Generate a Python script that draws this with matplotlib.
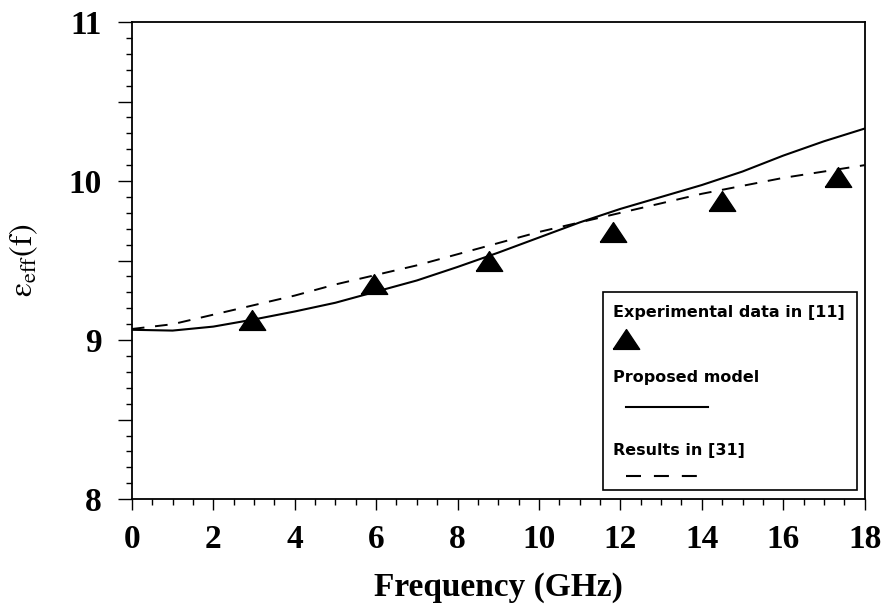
import matplotlib
matplotlib.use("Agg")
import matplotlib.pyplot as plt
from matplotlib.patches import Rectangle
from matplotlib.ticker import MultipleLocator

# ---------------------------------------------------------------------------
# Data
# ---------------------------------------------------------------------------
exp_freq = [2.95, 5.95, 8.77, 11.82, 14.5, 17.35]
exp_eps = [9.126, 9.352, 9.497, 9.68, 9.874, 10.025]

model_freq = [0, 1, 2, 3, 4, 5, 6, 7, 8, 9, 10, 11, 12, 13, 14, 15, 16, 17, 18]
model_eps = [9.065, 9.06, 9.085, 9.13, 9.18, 9.235, 9.305, 9.375, 9.46, 9.55,
             9.645, 9.74, 9.825, 9.90, 9.975, 10.06, 10.16, 10.25, 10.33]

ref31_freq = [0, 1, 2, 3, 4, 5, 6, 7, 8, 9, 10, 11, 12, 13, 14, 15, 16, 17, 18]
ref31_eps = [9.07, 9.10, 9.16, 9.22, 9.28, 9.35, 9.41, 9.47, 9.54, 9.61,
             9.68, 9.74, 9.80, 9.86, 9.92, 9.97, 10.02, 10.06, 10.10]

x_ticks = [0, 2, 4, 6, 8, 10, 12, 14, 16, 18]
y_ticks = [8, 9, 10, 11]

legend_labels = ["Experimental data in [11]", "Proposed model", "Results in [31]"]

# ---------------------------------------------------------------------------
# Figure
# ---------------------------------------------------------------------------
plt.rcParams["mathtext.fontset"] = "stix"
serif = "Liberation Serif"

fig = plt.figure(figsize=(8.85, 6.11), dpi=100)
ax = fig.add_axes([0.149, 0.183, 0.828, 0.781])

# wide, flat triangle as in the scan
tri = [(-1.0, -0.75), (1.0, -0.75), (0.0, 0.75), (-1.0, -0.75)]

ax.plot(model_freq, model_eps, color="black", lw=1.5)
ax.plot(ref31_freq, ref31_eps, color="black", lw=1.4, dashes=(6.5, 5.5))
ax.plot(exp_freq, exp_eps, linestyle="none", marker=tri, ms=19,
        color="black", clip_on=False)

ax.set_xlim(0, 18)
ax.set_ylim(8, 11)

ax.xaxis.set_minor_locator(MultipleLocator(0.5))
ax.yaxis.set_major_locator(MultipleLocator(0.5))
ax.yaxis.set_minor_locator(MultipleLocator(0.1))

ax.set_xticks(x_ticks)
ax.set_xticklabels([str(t) for t in x_ticks])
ax.set_yticklabels(["" if float(t) not in y_ticks else f"{t:g}" for t in ax.get_yticks()])

ax.tick_params(axis="both", which="major", direction="out", length=8, width=1.0,
               labelsize=24)
ax.tick_params(axis="both", which="minor", direction="out", length=4, width=1.0)
ax.tick_params(axis="x", which="major", pad=10)
ax.tick_params(axis="y", which="major", length=10, pad=12)
for lab in ax.get_xticklabels() + ax.get_yticklabels():
    lab.set_fontfamily(serif)
    lab.set_fontweight("bold")

for sp in ax.spines.values():
    sp.set_linewidth(1.3)
    sp.set_color("black")

ax.set_xlabel("Frequency (GHz)", fontsize=24, fontfamily=serif, fontweight="bold",
              labelpad=12)
ax.set_ylabel(r"$\mathrm{\varepsilon}_{\mathrm{eff}}\mathrm{(f)}$", fontsize=23, labelpad=20)

# ---------------------------------------------------------------------------
# Legend box drawn by hand (labels stacked above their symbols)
# ---------------------------------------------------------------------------
tr = ax.transAxes
ax.add_patch(Rectangle((0.643, 0.019), 0.346, 0.415, transform=tr,
                       fill=True, facecolor="white", edgecolor="black", lw=1.2, zorder=5))
lkw = dict(transform=tr, fontsize=11.5, fontweight="bold", fontfamily="DejaVu Sans",
           va="center", ha="left", zorder=6)
ax.text(0.656, 0.392, legend_labels[0], **lkw)
ax.plot([0.675], [0.335], transform=tr, linestyle="none", marker=tri, ms=19,
        color="black", zorder=6, clip_on=False)
ax.text(0.656, 0.256, legend_labels[1], **lkw)
ax.plot([0.675, 0.786], [0.193, 0.193], transform=tr, color="black", lw=1.5, zorder=6)
ax.text(0.656, 0.103, legend_labels[2], **lkw)
ax.plot([0.675, 0.772], [0.048, 0.048], transform=tr, color="black", lw=1.5,
        dashes=(7.2, 6.2), zorder=6)

fig.savefig("out.png", dpi=100)
